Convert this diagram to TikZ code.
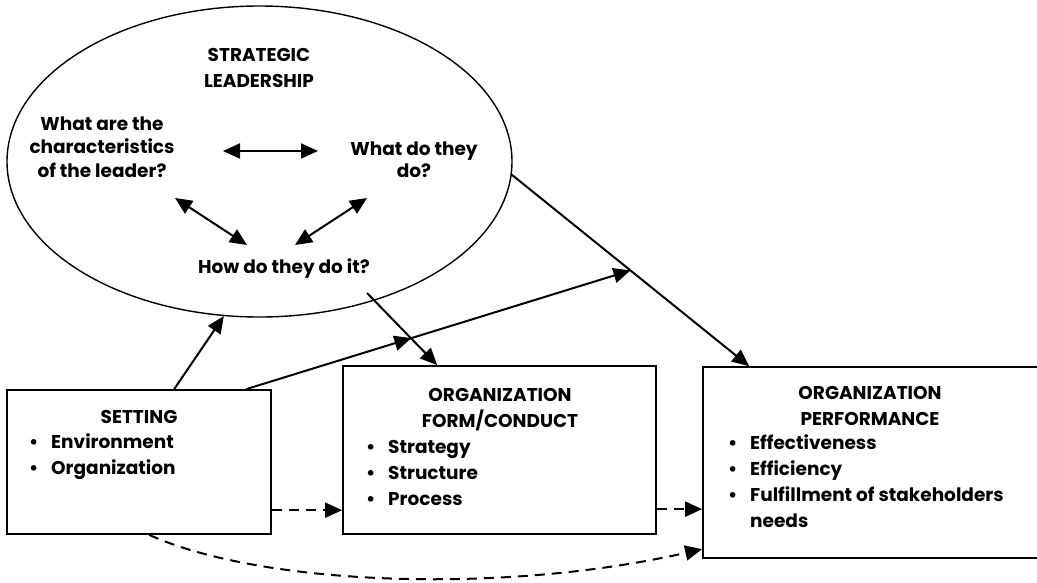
\documentclass[tikz,border=0pt]{standalone}
\usepackage{fontspec}
\setmainfont{Poppins}
\usetikzlibrary{arrows.meta,calc,decorations.markings,shapes.geometric}
\newcommand\bul{\makebox[22pt][l]{\textbullet}}
\begin{document}
\begin{tikzpicture}[x=1pt,y=-1pt,
  txt/.style={font=\fontsize{18.5}{25.5}\selectfont\bfseries, inner sep=0pt, align=center},
  qtxt/.style={font=\fontsize{18.5}{23.5}\selectfont\bfseries, inner sep=0pt, align=center},
  lst/.style={font=\fontsize{18.5}{25.7}\selectfont\bfseries, inner sep=0pt, align=left},
  box/.style={draw, line width=1.7pt, inner sep=0pt},
  arr/.style={line width=2pt, -{Triangle[length=17pt,width=15pt]}},
  darr/.style={line width=2pt, {Triangle[length=17pt,width=15pt]}-{Triangle[length=17pt,width=15pt]}},
  dsh/.style={line width=2pt, dash pattern=on 10pt off 7pt, -{Triangle[length=17pt,width=15pt]}},
]
\useasboundingbox (0,0) rectangle (1037,582);
\clip (0,0) rectangle (1037,582);
% ellipse
\node[draw, ellipse, line width=1.4pt, minimum width=505pt, minimum height=311pt, inner sep=0pt] (sl) at (259.5,161.5) {};
\node[txt, anchor=base] (slt) at (259,87) {STRATEGIC\\LEADERSHIP};
\node[qtxt, anchor=base] (q1) at (102,177) {What are the\\characteristics\\of the leader?};
\node[qtxt, font=\fontsize{18.5}{22}\selectfont\bfseries, anchor=base] (q2) at (414,177) {What do they\\do?};
\node[qtxt, anchor=base] (q3) at (284,273) {How do they do it?};
\coordinate (h1) at (223,151);
\coordinate (h2) at (318,151);
\coordinate (l1) at (175,198);
\coordinate (l2) at (247,245);
\coordinate (r1) at (367,198);
\coordinate (r2) at (295,245);
\draw[darr] (h1) -- (h2);
\draw[darr] (l1) -- (l2);
\draw[darr] (r1) -- (r2);
% boxes
\node[box, minimum width=264pt, minimum height=144pt] (set) at (139,462) {};
\node[txt, anchor=base] (sett) at (139,423) {SETTING};
\node[lst, anchor=base west] (setl) at (29,474) {\bul Environment\\\bul Organization};
\node[box, minimum width=313pt, minimum height=168pt] (form) at (499.5,450) {};
\node[txt, anchor=base] (formt) at (500,427) {ORGANIZATION\\FORM/CONDUCT};
\node[lst, anchor=base west] (forml) at (366,505) {\bul Strategy\\\bul Structure\\\bul Process};
\node[box, minimum width=337pt, minimum height=191pt] (perf) at (871.5,462.5) {};
\node[txt, anchor=base] (perft) at (870,425) {ORGANIZATION\\PERFORMANCE};
\node[lst, anchor=base west] (perfl) at (728,527) {\bul Effectiveness\\\bul Efficiency\\\bul Fulfillment of stakeholders\\\hspace*{22pt}needs};
% connectors
\coordinate (perfA) at ($(perf.north west)+(47,0)$);
\coordinate (mod) at ($(sl.-3.8)!0.5!(perfA)$);
\coordinate (hs) at (367,293);
\draw[arr] ($(set.north west)+(168,0)$) -- (sl.-103.6);
\draw[arr] (sl.-3.8) -- (perfA);
\draw[arr, postaction={decorate}, decoration={markings, mark=at position 0.43 with {\arrow[line width=2pt]{Triangle[length=17pt,width=15pt]}}}]
  ($(set.north west)+(240,0)$) -- (mod);
\draw[arr] (hs) -- ($(form.north west)+(95,0)$);
\draw[dsh] ($(set.north east)+(0,121)$) -- ($(form.north west)+(0,145)$);
\draw[dsh] ($(form.north east)+(0,144)$) -- ($(perf.north west)+(0,143)$);
\draw[dsh] ($(set.south west)+(143,0)$) .. controls (260,585) and (500,595) .. ($(perf.north west)+(0,183)$);
\end{tikzpicture}
\end{document}
